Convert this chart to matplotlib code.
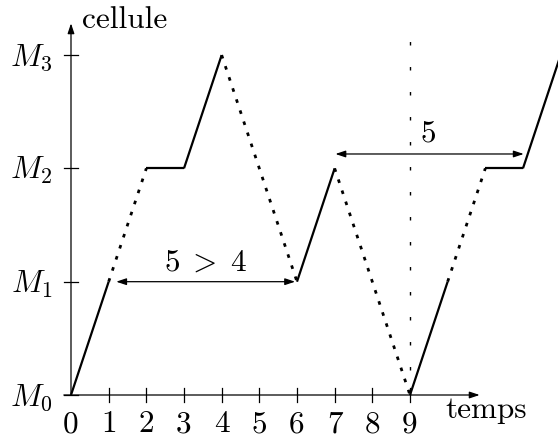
import matplotlib
matplotlib.use("Agg")
import matplotlib.pyplot as plt

plt.rcParams['font.family'] = ['cmr10', 'DejaVu Serif']
plt.rcParams['mathtext.fontset'] = 'cm'
plt.rcParams['axes.unicode_minus'] = False

# path of the cell over time: (t, level), and whether each piece is solid
path_t = [0, 1, 2, 3, 4, 6, 7, 9, 10, 11, 12, 13]
path_m = [0, 1, 2, 2, 3, 1, 2, 0, 1, 2, 2, 3]
solid = [True, False, True, True, False, True, False, True, False, True, True]

x_ticks = [0, 1, 2, 3, 4, 5, 6, 7, 8, 9]
y_labels = ["$M_0$", "$M_1$", "$M_2$", "$M_3$"]

fig = plt.figure(figsize=(5.58, 4.38), dpi=100)
ax = fig.add_axes([0, 0, 1, 1])
ax.set_xlim(-1.885, 12.93)
ax.set_ylim(-0.3795, 3.486)
ax.axis("off")

fs = 22.5

# axes with arrow heads
ax.annotate("", xy=(10.85, 0), xytext=(-0.19, 0),
            arrowprops=dict(arrowstyle="-|>,head_length=0.6,head_width=0.2", lw=0.9, color="black",
                            shrinkA=0, shrinkB=0))
ax.annotate("", xy=(0, 3.28), xytext=(0, 0),
            arrowprops=dict(arrowstyle="-|>,head_length=0.6,head_width=0.2", lw=0.9, color="black",
                            shrinkA=0, shrinkB=0))

for t in x_ticks[1:]:
    ax.plot([t, t], [-0.062, 0.062], color="black", lw=0.9)
for i, lab in enumerate(y_labels):
    ax.plot([-0.186, 0.186], [i, i], color="black", lw=0.9)
    ax.text(-0.5, i - 0.02, lab, fontsize=fs, ha="right", va="center")
for t in x_ticks:
    ax.text(t, -0.258, str(t), fontsize=fs, ha="center", va="center")

ax.text(0.29, 3.31, "cellule", fontsize=fs, ha="left", va="center")
ax.text(9.93, -0.203, "temps", fontsize=fs, ha="left", va="baseline")

# trajectory
for k in range(len(path_t) - 1):
    xs = path_t[k:k + 2]
    ys = path_m[k:k + 2]
    if solid[k]:
        ax.plot(xs, ys, color="black", lw=1.6, solid_capstyle="butt")
    else:
        ax.plot(xs, ys, color="black", lw=2.0, linestyle=(0, (1.3, 2.9)))

# vertical dotted line at t = 9
ax.plot([9, 9], [0, 3.19], color="black", lw=1.0, linestyle=(0, (2.5, 15.5)))

# duration arrows
ax.annotate("", xy=(1.2, 1), xytext=(5.95, 1),
            arrowprops=dict(arrowstyle="<|-|>,head_length=0.6,head_width=0.2", lw=0.9, color="black",
                            shrinkA=0, shrinkB=0))
ax.text(3.56, 1.165, r"$5\;>\;4$", fontsize=fs, ha="center", va="center")
ax.annotate("", xy=(7.02, 2.127), xytext=(12.02, 2.127),
            arrowprops=dict(arrowstyle="<|-|>,head_length=0.6,head_width=0.2", lw=0.9, color="black",
                            shrinkA=0, shrinkB=0))
ax.text(9.48, 2.31, "5", fontsize=fs, ha="center", va="center")

fig.savefig("out.png", dpi=100)
